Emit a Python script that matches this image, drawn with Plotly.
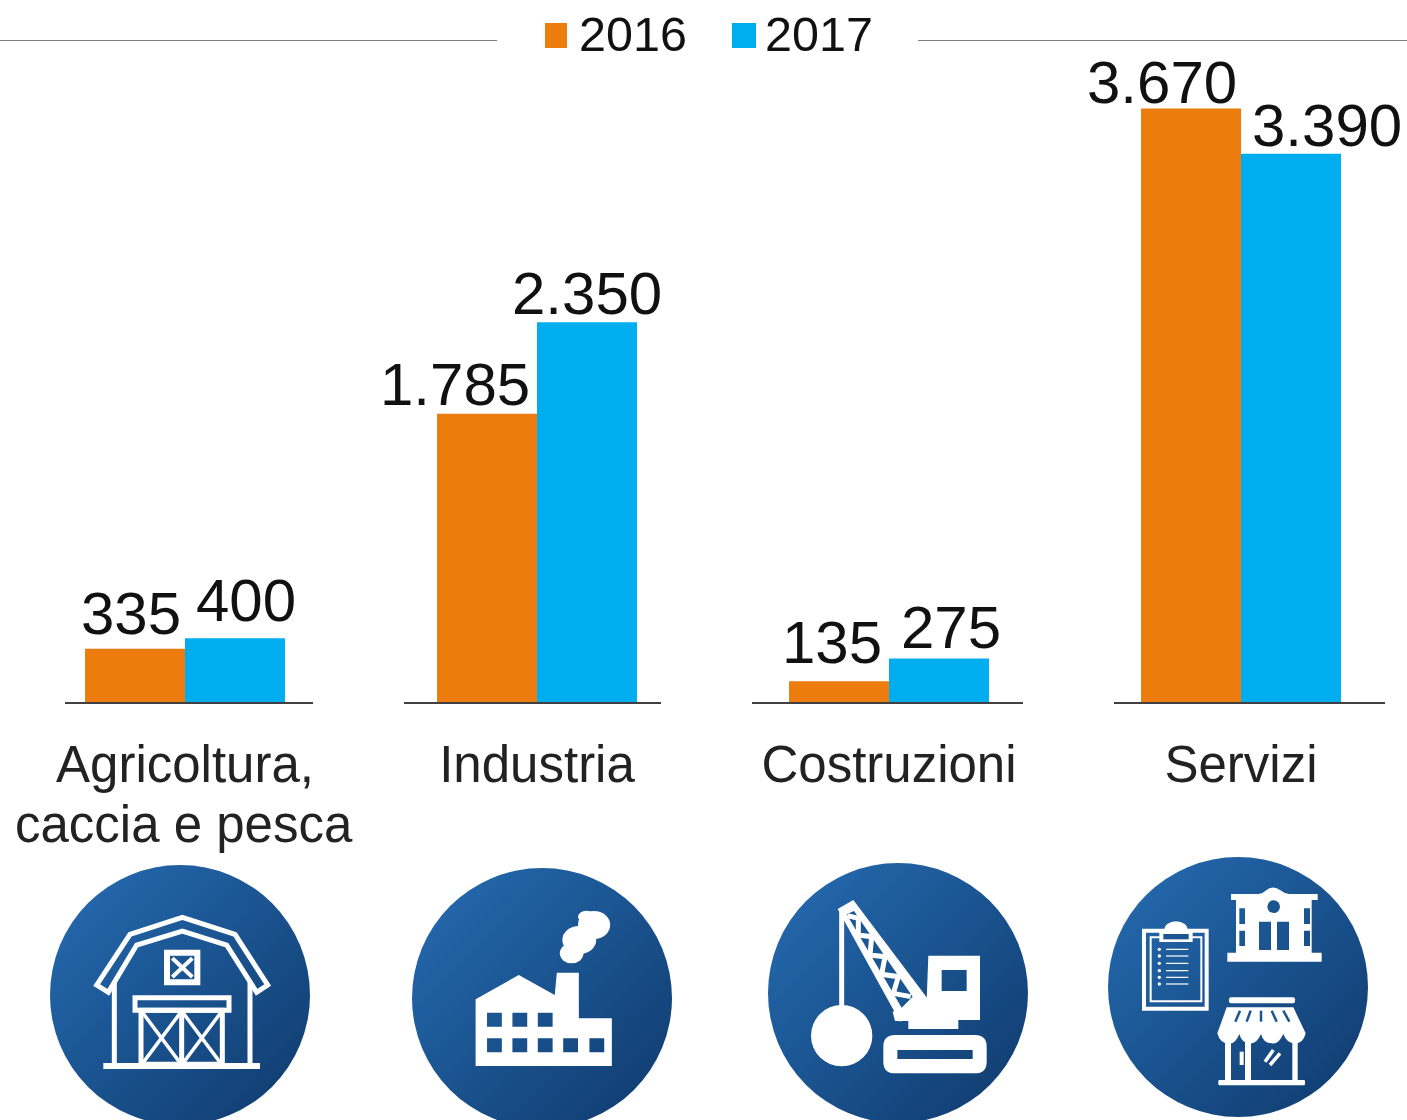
import base64
import plotly.graph_objects as go

# ---- data ----
categories = ["Agricoltura, caccia e pesca", "Industria", "Costruzioni", "Servizi"]
tick_labels = ["Agricoltura,", "Industria", "Costruzioni", "Servizi"]
second_line = "caccia e pesca"
values_2016 = [335, 1785, 135, 3670]
values_2017 = [400, 2350, 275, 3390]
series_names = ["2016", "2017"]

# ---- style / layout ----
W, H = 1407, 1120
ORANGE, BLUE = "#EC7C0E", "#00AEEF"
FONT = "Liberation Sans"
BASE_Y = 703
PX_PER_UNIT = 0.162
CAT_STEP = 352
CAT0 = 185
label_shift_2016 = [-54, -82, -57, -79]
label_shift_2017 = [61, 50, 62, 86]
label_lift_2016 = [0, -6, 3, -10]
label_lift_2017 = [2, -7, -5, -7]


def fx(x):
    return x / W


def fy(y):
    return 1 - y / H


def fmt(v):
    return f"{v:,}".replace(",", ".")


fig = go.Figure()
for name, vals, col in zip(series_names, [values_2016, values_2017], [ORANGE, BLUE]):
    fig.add_trace(go.Bar(name=name, x=categories, y=vals, marker=dict(color=col, line=dict(width=0)),
                         showlegend=False, hoverinfo="x+y+name"))

annotations = []
for vals, shifts, lifts in [(values_2016, label_shift_2016, label_lift_2016),
                            (values_2017, label_shift_2017, label_lift_2017)]:
    for cat, v, s, l in zip(categories, vals, shifts, lifts):
        annotations.append(dict(x=cat, y=v, xref="x", yref="y", text=fmt(v), showarrow=False,
                                xanchor="center", yanchor="bottom", xshift=s, yshift=l,
                                font=dict(family=FONT, size=60, color="#111111")))

annotations.append(dict(x=categories[0], y=fy(824), xref="x", yref="paper", text=second_line, showarrow=False,
                        xanchor="center", yanchor="middle", xshift=-1,
                        font=dict(family=FONT, size=51, color="#222222")))

legend_items = [(545, 567, 579, series_names[0], ORANGE), (732, 756, 765, series_names[1], BLUE)]
shapes = []
for x0, x1, tx, name, col in legend_items:
    shapes.append(dict(type="rect", xref="paper", yref="paper", x0=fx(x0), x1=fx(x1), y0=fy(23), y1=fy(48),
                       fillcolor=col, line=dict(width=0)))
    annotations.append(dict(x=fx(tx), y=fy(34), xref="paper", yref="paper", text=name, showarrow=False,
                            xanchor="left", yanchor="middle", xshift=-2,
                            font=dict(family=FONT, size=48.5, color="#111111")))
for x0, x1 in [(0, 497), (918, 1407)]:
    shapes.append(dict(type="line", xref="paper", yref="paper", x0=fx(x0), x1=fx(x1), y0=fy(40.5), y1=fy(40.5),
                       line=dict(color="#808080", width=1)))
for x0, x1 in [(65, 313), (404, 661), (752, 1023), (1114, 1385)]:
    shapes.append(dict(type="line", xref="paper", yref="paper", x0=fx(x0), x1=fx(x1),
                       y0=fy(BASE_Y), y1=fy(BASE_Y), line=dict(color="#404040", width=2)))

# ---- icons ----
STROKE = 'fill="none" stroke="{c}" vector-effect="non-scaling-stroke" stroke-linejoin="miter"'
BG = "#1c5690"


def line(x1, y1, x2, y2, w=4, c="#fff"):
    return f'<line x1="{x1}" y1="{y1}" x2="{x2}" y2="{y2}" {STROKE.format(c=c)} stroke-width="{w}"/>'


def rect(x0, y0, x1, y1, w=None, fill="#fff", rx=0):
    if w:
        return (f'<rect x="{x0}" y="{y0}" width="{x1-x0}" height="{y1-y0}" rx="{rx}" '
                f'{STROKE.format(c="#fff")} stroke-width="{w}"/>')
    return f'<rect x="{x0}" y="{y0}" width="{x1-x0}" height="{y1-y0}" rx="{rx}" fill="{fill}"/>'


def poly(d, w=None, fill="#fff"):
    if w:
        return f'<path d="{d}" {STROKE.format(c="#fff")} stroke-width="{w}"/>'
    return f'<path d="{d}" fill="{fill}" fill-rule="evenodd"/>'


def ell(cx, cy, rx, ry, fill="#fff"):
    return f'<ellipse cx="{cx}" cy="{cy}" rx="{rx}" ry="{ry}" fill="{fill}"/>'


barn = "".join([
    poly("M35,240 L135,88 L292,37 L450,88 L548,240 L515,262 L425,120 L292,78 L155,120 L70,262 Z", 5),
    line(88, 232, 88, 480, 5), line(495, 232, 495, 480, 5), line(55, 483, 525, 483, 6),
    rect(246, 143, 337, 232, 6), line(262, 160, 322, 216, 4), line(322, 160, 262, 216, 4),
    rect(150, 278, 432, 316, 5), rect(168, 316, 412, 478, 5), line(290, 316, 290, 478, 5),
    line(172, 322, 287, 476, 3.5), line(287, 322, 172, 476, 3.5),
    line(293, 322, 408, 476, 3.5), line(408, 322, 293, 476, 3.5),
])
win = "".join(f"M{x},{y}h35v42h-35z" for x, y in [(1085, 458), (1145, 458), (1205, 458), (1085, 535),
                                                   (1145, 535), (1205, 535), (1265, 535), (1327, 535)])
factory = "".join([
    poly("M1058,618 L1058,418 L1160,345 L1245,405 L1250,338 L1302,338 L1302,475 L1380,475 L1380,618 Z" + win),
    ell(1338, 195, 38, 42), ell(1303, 240, 40, 42), ell(1285, 280, 28, 30), ell(1320, 170, 20, 18),
])
crane_L = [(172, 92), (205, 150), (240, 210), (275, 268), (310, 325)]
crane_R = [(205, 100), (245, 155), (285, 215), (325, 275), (362, 335)]
zig = "M" + " L".join(f"{a[0]},{a[1]} {b[0]},{b[1]}" for a, b in zip(crane_L, crane_R))
crane = "".join([
    ell(155, 452, 92, 92), line(155, 80, 155, 370, 5),
    poly("M143,72 L190,45 L420,350 L330,410 Z"),
    poly("M170,88 L192,78 L368,335 L335,368 Z", fill=BG), poly(zig, 5),
    poly("M415,212 H570 V405 H505 V432 H355 V408 H315 L308,380 L410,345 Z M455,255 V318 H530 V255 Z"),
    poly("M315,450 H555 Q590,450 590,485 V530 Q590,565 555,565 H315 Q280,565 280,530 V485 Q280,450 315,450 Z "
         "M322,495 V522 H548 V495 Z"),
])
list_rows = "".join(ell(88, y, 5, 5) + line(108, y, 175, y, 1.2) for y in [208, 228, 250, 272, 292, 312])
services = "".join([
    # building
    poly("M303,42 H385 Q400,40 410,30 Q430,15 450,30 Q462,40 478,42 H563 V60 H545 V218 H575 V245 H292 V218 H318 V60 H303 Z "
         "M328,85 V132 H345 V85 Z M328,152 V198 H345 V152 Z M522,85 V132 H540 V85 Z M522,152 V198 H540 V152 Z "
         "M387,125 V210 H423 V125 Z M441,125 V210 H477 V125 Z"),
    ell(431, 80, 19, 19, BG),
    # clipboard
    rect(42, 152, 230, 386, 4), rect(62, 172, 214, 364, 2),
    ell(138, 150, 35, 26), rect(88, 155, 188, 186), rect(100, 162, 176, 178, fill=BG), list_rows,
    # shop
    rect(297, 352, 495, 370, rx=6),
    poly("M290,382 H490 L527,460 Q520,490 495,490 Q470,490 460,462 Q445,495 425,490 Q400,490 393,462 "
         "Q380,492 360,490 Q335,490 328,462 Q315,495 295,490 Q270,490 262,460 Z"),
    line(330, 392, 316, 425, 2.5, BG), line(362, 392, 350, 425, 2.5, BG), line(393, 392, 393, 425, 2.5, BG),
    line(425, 392, 440, 425, 2.5, BG), line(460, 392, 478, 425, 2.5, BG),
    rect(285, 480, 303, 602), rect(345, 485, 363, 602), rect(487, 480, 503, 602), rect(265, 600, 525, 616, rx=3),
    line(335, 515, 335, 555, 4), line(405, 545, 430, 510, 3.5), line(420, 555, 450, 520, 3.5),
])

icons = [
    (180, 995, barn, 85, 905, 1 / 3),
    (542, 998, factory, 28, 860, 660 / 1560),
    (898, 993, crane, 790, 885, 1 / 3),
    (1238, 987, services, 1130, 880, 1 / 3),
]
R = 130
images = []
for cx, cy, body, ox, oy, sx in icons:
    x0, y0 = cx - R, cy - R
    svg = (f'<svg xmlns="http://www.w3.org/2000/svg" width="{2*R}" height="{2*R}" viewBox="{x0} {y0} {2*R} {2*R}">'
           f'<defs><linearGradient id="g" x1="0" y1="0" x2="1" y2="1"><stop offset="0.15" stop-color="#2265A8"/>'
           f'<stop offset="0.9" stop-color="#113E72"/></linearGradient></defs>'
           f'<circle cx="{cx}" cy="{cy}" r="{R}" fill="url(#g)"/>'
           f'<g transform="translate({ox},{oy}) scale({sx},{1/3})">{body}</g></svg>')
    src = "data:image/svg+xml;base64," + base64.b64encode(svg.encode()).decode()
    images.append(dict(source=src, xref="paper", yref="paper", x=fx(x0), y=fy(y0),
                       sizex=2 * R / W, sizey=2 * R / H, xanchor="left", yanchor="top",
                       sizing="stretch", layer="above"))

fig.update_layout(
    width=W, height=H, margin=dict(l=0, r=0, t=0, b=0), autosize=False,
    paper_bgcolor="white", plot_bgcolor="white", barmode="group", bargap=0.432, bargroupgap=0,
    showlegend=False, annotations=annotations, shapes=shapes, images=images,
    font=dict(family=FONT),
    xaxis=dict(type="category", range=[-CAT0 / CAT_STEP, (W - CAT0) / CAT_STEP], domain=[0, 1],
               showgrid=False, zeroline=False, showline=False, ticks="outside", ticklen=17,
               tickcolor="rgba(0,0,0,0)", tickfont=dict(family=FONT, size=51, color="#222222"),
               tickmode="array", tickvals=categories, ticktext=tick_labels,
               tickangle=0, automargin=False, fixedrange=True),
    yaxis=dict(range=[0, BASE_Y / PX_PER_UNIT], domain=[1 - BASE_Y / H, 1], visible=False, fixedrange=True),
)

fig.write_html("out.html", config=dict(displayModeBar=False),
               post_script="document.body.style.margin='0';")
